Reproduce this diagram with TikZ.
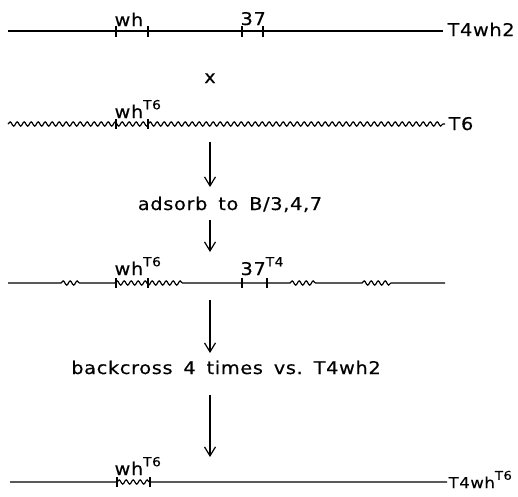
\documentclass[tikz,border=0pt]{standalone}
\usepackage{fontspec}
\setmainfont{DejaVu Sans}[LetterSpace=4,FakeStretch=1.1,WordSpace=1.6,FakeBold=0.4]
\usetikzlibrary{arrows.meta,decorations.pathmorphing}
% raised small text for allele / strain superscripts
\newcommand\sptext[1]{\raisebox{0.5em}{\fontsize{12.5}{12.5}\selectfont #1}}
\begin{document}
\begin{tikzpicture}[x=1pt,y=-1pt,line width=1.2pt,
  font=\fontsize{17.5}{20}\selectfont,
  lbl/.style={inner sep=0pt,anchor=base west},
  wavy/.style={decoration={snake,amplitude=2.1pt,segment length=7pt}},
  flow/.style={-{Straight Barb[length=9pt,width=11pt]},line width=1.2pt},
  locus/.style={line width=1.2pt}]
\useasboundingbox (0,0) rectangle (518,496);

% --- T4wh2 chromosome
\coordinate (a1) at (8,31);
\coordinate (b1) at (443,31);
\draw (a1) -- (b1);
\foreach \x in {116,148,242,263} \draw[locus] (\x,26) -- (\x,37);
\node[lbl] (wh1) at (114,26) {wh};
\node[lbl] (g37) at (240,25) {37};
\node[lbl] (t1) at (447,36) {T4wh2};

% --- cross sign
\node[lbl,anchor=base] (cross) at (210,83) {x};

% --- T6 chromosome
\coordinate (a2) at (8,124);
\coordinate (b2) at (445,124);
\draw[wavy,decorate] (a2) -- (b2);
\foreach \x in {116,148} \draw[locus] (\x,119) -- (\x,129);
\node[lbl] (wh2) at (114,118) {wh\sptext{T6}};
\node[lbl] (t2) at (448,130) {T6};

% --- adsorption step
\coordinate (s1) at (210,142);
\coordinate (e1) at (210,187);
\draw[flow] (s1) -- (e1);
\node[lbl,anchor=base] (ads) at (230,210) {adsorb to B/3,4,7};
\coordinate (s2) at (210,220);
\coordinate (e2) at (210,252);
\draw[flow] (s2) -- (e2);

% --- recombinant chromosome
\coordinate (a3) at (8,283);
\coordinate (b3) at (445,283);
\draw[wavy] (a3) -- (61,283) decorate {-- (80,283)} -- (115,283)
  decorate {-- (183,283)} -- (290,283) decorate {-- (318,283)}
  -- (362,283) decorate {-- (393,283)} -- (b3);
\foreach \x in {116,148,242,267} \draw[locus] (\x,278) -- (\x,288);
\node[lbl] (wh3) at (114,275) {wh\sptext{T6}};
\node[lbl] (g37b) at (240,275) {37\sptext{T4}};

% --- backcross step
\coordinate (s3) at (210,300);
\coordinate (e3) at (210,353);
\draw[flow] (s3) -- (e3);
\node[lbl,anchor=base] (back) at (226,374) {backcross 4 times vs.\ T4wh2};
\coordinate (s4) at (210,395);
\coordinate (e4) at (210,457);
\draw[flow] (s4) -- (e4);

% --- T4wh^T6 chromosome
\coordinate (a4) at (10,482);
\coordinate (b4) at (447,482);
\draw[wavy] (a4) -- (117,482) decorate {-- (150,482)} -- (b4);
\foreach \x in {117,150} \draw[locus] (\x,477) -- (\x,487);
\node[lbl] (wh4) at (114,475) {wh\sptext{T6}};
\node[lbl,font=\fontsize{15}{17}\selectfont] (t4) at (448,488)
  {T4wh\raisebox{0.55em}{\fontsize{12}{12}\selectfont T6}};
\end{tikzpicture}
\end{document}
